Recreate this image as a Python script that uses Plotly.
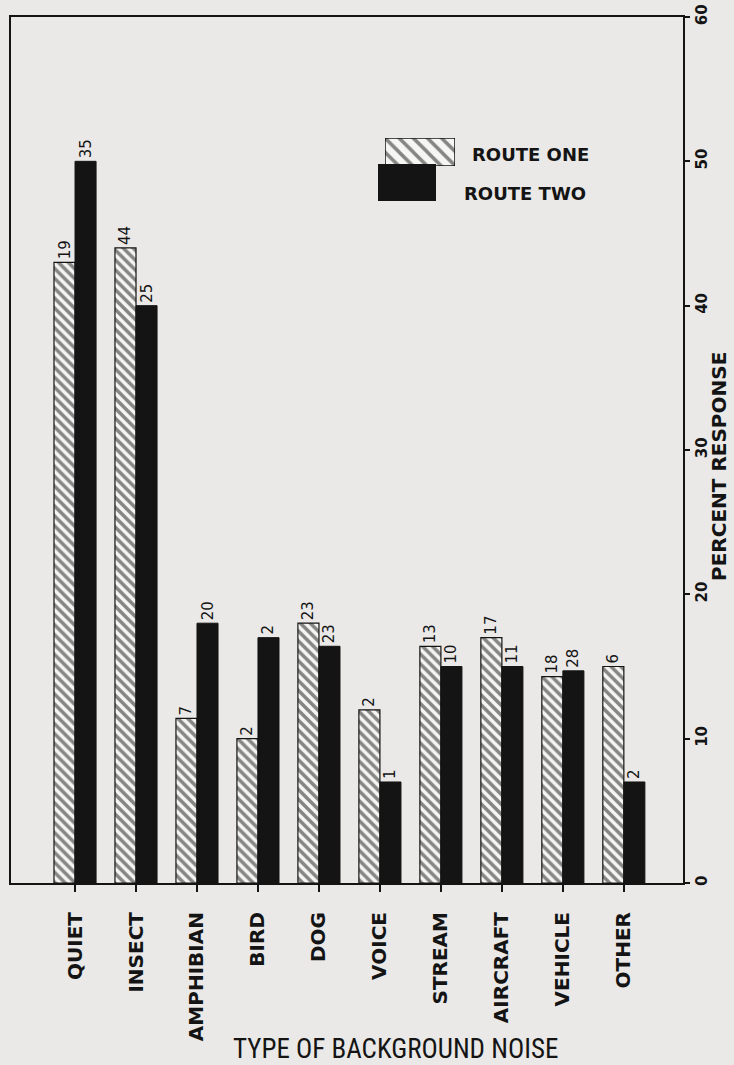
import plotly.graph_objects as go

categories = ["QUIET", "INSECT", "AMPHIBIAN", "BIRD", "DOG", "VOICE",
              "STREAM", "AIRCRAFT", "VEHICLE", "OTHER"]
route_one_pct = [43, 44, 11.4, 10, 18, 12, 16.4, 17, 14.3, 15]
route_two_pct = [50, 40, 18, 17, 16.4, 7, 15, 15, 14.7, 7]
route_one_n = [19, 44, 7, 2, 23, 2, 13, 17, 18, 6]
route_two_n = [35, 25, 20, 2, 23, 1, 10, 11, 28, 2]
y_ticks = [0, 10, 20, 30, 40, 50, 60]
series_names = ["ROUTE ONE", "ROUTE TWO"]

BG = "#eae9e7"
INK = "#141414"
HATCH_BG = "#f6f6f4"
FONT = "DejaVu Sans"

# plot-area pixel box (from the reference)
W, H = 734, 1065
L, R, T, B = 11, 683, 17, 883
PW, PH = R - L, B - T


def px(x):
    return (x - L) / PW


def py(y):
    return (B - y) / PH


fig = go.Figure()

fig.add_trace(go.Bar(
    x=categories, y=route_one_pct, name=series_names[0],
    text=[str(v) for v in route_one_n], textposition="outside",
    textangle=-90, constraintext="none", cliponaxis=False,
    textfont=dict(family=FONT, size=15, color=INK),
    marker=dict(color=HATCH_BG, line=dict(color=INK, width=1.2),
                pattern=dict(shape="\\", fgcolor=INK, bgcolor=HATCH_BG,
                             size=7, solidity=0.5)),
    showlegend=False,
))
fig.add_trace(go.Bar(
    x=categories, y=route_two_pct, name=series_names[1],
    text=[str(v) for v in route_two_n], textposition="outside",
    textangle=-90, constraintext="none", cliponaxis=False,
    textfont=dict(family=FONT, size=15, color=INK),
    marker=dict(color=INK, line=dict(color=INK, width=1)),
    showlegend=False,
))

# legend swatches drawn as bars on small overlay axes
fig.add_trace(go.Bar(x=[0], y=[1], width=[1], xaxis="x2", yaxis="y2",
                     marker=dict(color=HATCH_BG, line=dict(color=INK, width=1.5),
                                 pattern=dict(shape="\\", fgcolor=INK, bgcolor=HATCH_BG,
                                              size=10, solidity=0.35)),
                     showlegend=False, hoverinfo="skip"))
fig.add_trace(go.Bar(x=[0], y=[1], width=[1], xaxis="x3", yaxis="y3",
                     marker=dict(color=INK, line=dict(color=INK, width=1)),
                     showlegend=False, hoverinfo="skip"))

hidden = dict(visible=False, fixedrange=True)

fig.update_layout(
    width=W, height=H,
    margin=dict(l=L, r=W - R, t=T, b=H - B, autoexpand=False),
    paper_bgcolor=BG, plot_bgcolor=BG,
    barmode="group", bargap=0.31, bargroupgap=0.0,
    font=dict(family=FONT, color=INK),
    xaxis=dict(
        type="category", range=[-1.05, 9.97], automargin=False,
        showline=True, linecolor=INK, linewidth=2, mirror=True,
        ticks="outside", ticklen=7, tickwidth=1.5, tickcolor=INK,
        tickangle=-90, ticklabelstandoff=12,
        tickfont=dict(family=FONT, size=20, weight="bold", color=INK),
        showgrid=False, zeroline=False,
    ),
    yaxis=dict(
        side="right", range=[0, 60], tickvals=y_ticks, automargin=False,
        showline=True, linecolor=INK, linewidth=2, mirror=True,
        ticks="outside", ticklen=5, tickwidth=1.5, tickcolor=INK,
        tickangle=-90, ticklabelstandoff=-1,
        tickfont=dict(family=FONT, size=15, weight="bold", color=INK),
        showgrid=False, zeroline=False,
    ),
    yaxis4=dict(
        overlaying="y", side="right", range=[0, 60], tickvals=y_ticks,
        ticks="inside", ticklen=5, tickwidth=1.5, tickcolor=INK,
        showticklabels=False, showline=False, showgrid=False, zeroline=False,
        automargin=False, fixedrange=True,
    ),
    xaxis2=dict(domain=[px(385), px(455)], range=[-0.5, 0.5], anchor="y2", **hidden),
    yaxis2=dict(domain=[py(166), py(138)], range=[0, 1], anchor="x2", **hidden),
    xaxis3=dict(domain=[px(378), px(436)], range=[-0.5, 0.5], anchor="y3", **hidden),
    yaxis3=dict(domain=[py(201), py(164)], range=[0, 1], anchor="x3", **hidden),
    annotations=[
        dict(text=series_names[0], x=px(470), y=py(155), xref="paper", yref="paper",
             xanchor="left", yanchor="middle", showarrow=False,
             font=dict(family=FONT, size=18, weight="bold", color=INK)),
        dict(text=series_names[1], x=px(462), y=py(193), xref="paper", yref="paper",
             xanchor="left", yanchor="middle", showarrow=False,
             font=dict(family=FONT, size=18, weight="bold", color=INK)),
        dict(text="PERCENT RESPONSE", x=px(719), y=py(467), xref="paper", yref="paper",
             xanchor="center", yanchor="middle", textangle=-90, showarrow=False,
             font=dict(family=FONT, size=20, weight="bold", color=INK)),
        dict(text="TYPE OF BACKGROUND NOISE", x=px(395), y=py(1049),
             xref="paper", yref="paper", xanchor="center", yanchor="middle",
             showarrow=False,
             font=dict(family="Liberation Sans Narrow, Roboto Condensed, Liberation Sans",
                       size=27, color=INK)),
    ],
)

fig.write_html("out.html",
               config=dict(displayModeBar=False),
               post_script="document.body.style.margin='0';"
                           "document.documentElement.style.overflow='hidden';")
